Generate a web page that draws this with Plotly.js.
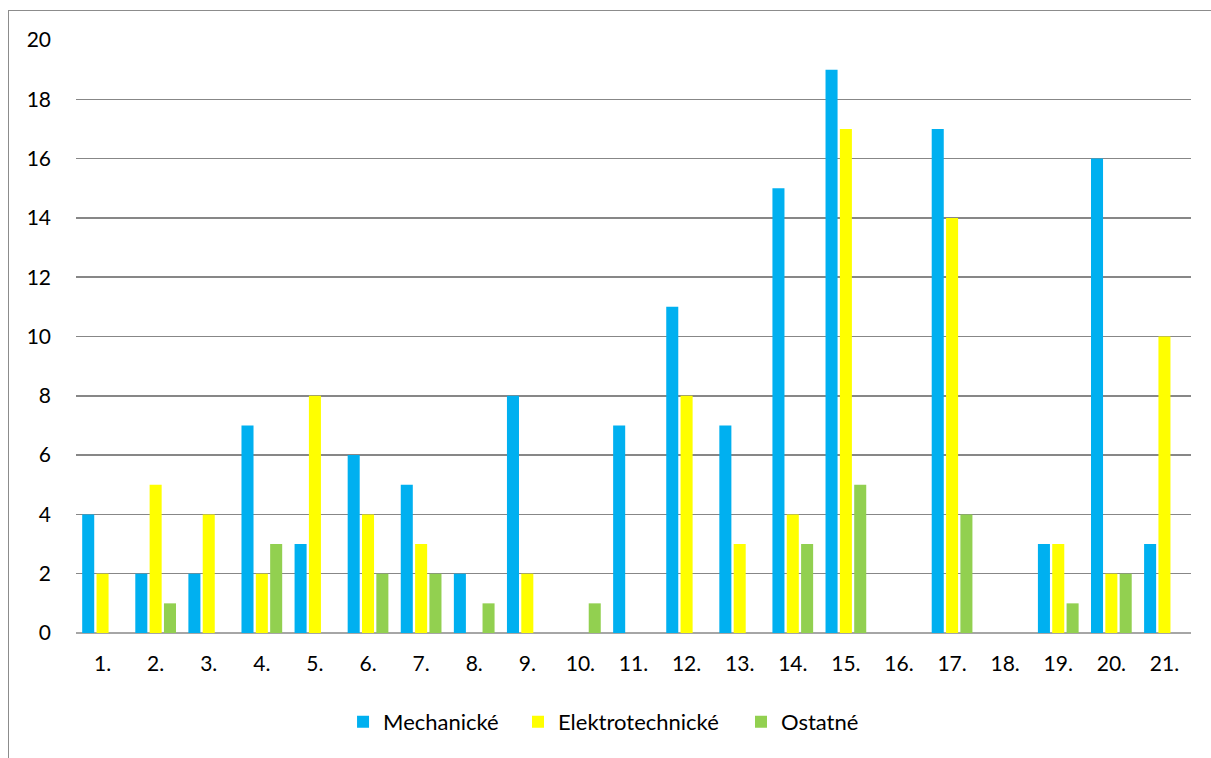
<!DOCTYPE html>
<html>
<head>
<meta charset="utf-8">
<script src="https://cdn.plot.ly/plotly-3.0.1.min.js"></script>
<style>
  html, body { margin: 0; padding: 0; background: #fff; }
  #frame { position: absolute; left: 8px; top: 10px; width: 1203px; height: 748px;
           border-left: 1.5px solid #8c8c8c; border-top: 1.5px solid #8c8c8c; box-sizing: border-box; }
  #chart { position: absolute; left: 0; top: 0; width: 1211px; height: 758px; }
</style>
</head>
<body>
<div id="frame"></div>
<div id="chart"></div>
<script>
const categories = ["1.","2.","3.","4.","5.","6.","7.","8.","9.","10.","11.","12.","13.","14.","15.","16.","17.","18.","19.","20.","21."];
const mechanicke = [4,2,2,7,3,6,5,2,8,0,7,11,7,15,19,0,17,0,3,16,3];
const elektrotechnicke = [2,5,4,2,8,4,3,0,2,0,0,8,3,4,17,0,14,0,3,2,10];
const ostatne = [0,1,0,3,0,2,2,1,0,1,0,0,0,3,5,0,4,0,1,2,0];
const seriesNames = ["Mechanické","Elektrotechnické","Ostatné"];
const yTicks = [0,2,4,6,8,10,12,14,16,18,20];

const colors = ["#00B0F0","#FFFF00","#92D050"];
const legendIds = ["legend","legend2","legend3"];
const data = [mechanicke, elektrotechnicke, ostatne].map((vals, i) => ({
  type: "bar",
  x: categories,
  y: vals,
  name: seriesNames[i],
  legend: legendIds[i],
  marker: { color: colors[i], line: { width: 0 } },
  hoverinfo: "x+y+name"
}));

const legendBase = { orientation: "h", y: -0.15, yanchor: "middle", xanchor: "left",
                     font: { size: 22 }, itemwidth: 30, bgcolor: "rgba(0,0,0,0)" };
const layout = {
  width: 1211, height: 758,
  paper_bgcolor: "rgba(0,0,0,0)",
  plot_bgcolor: "rgba(0,0,0,0)",
  margin: { l: 76, r: 20, t: 40, b: 125 },
  font: { family: "Lato, 'Open Sans', sans-serif", size: 21, color: "#000" },
  barmode: "group",
  bargap: 0.19,
  bargroupgap: 0.16,
  showlegend: true,
  legend:  Object.assign({}, legendBase, { x: 0.2395 }),
  legend2: Object.assign({}, legendBase, { x: 0.3964 }),
  legend3: Object.assign({}, legendBase, { x: 0.5964 }),
  xaxis: {
    type: "category",
    tickvals: categories, ticktext: categories,
    showgrid: false, showline: false, zeroline: false,
    ticks: "", ticklen: 0, ticklabelstandoff: 16,
    tickfont: { size: 21 }
  },
  yaxis: {
    range: [0, 20],
    tickvals: yTicks, ticktext: yTicks.map(String),
    showgrid: true, gridcolor: "#878787", gridwidth: 1.5,
    zeroline: true, zerolinecolor: "#a6a6a6", zerolinewidth: 1.5,
    showline: false, ticks: "", ticklabelstandoff: 24,
    tickfont: { size: 21 }
  }
};

Plotly.newPlot("chart", data, layout, { displayModeBar: false, staticPlot: true });
</script>
</body>
</html>
